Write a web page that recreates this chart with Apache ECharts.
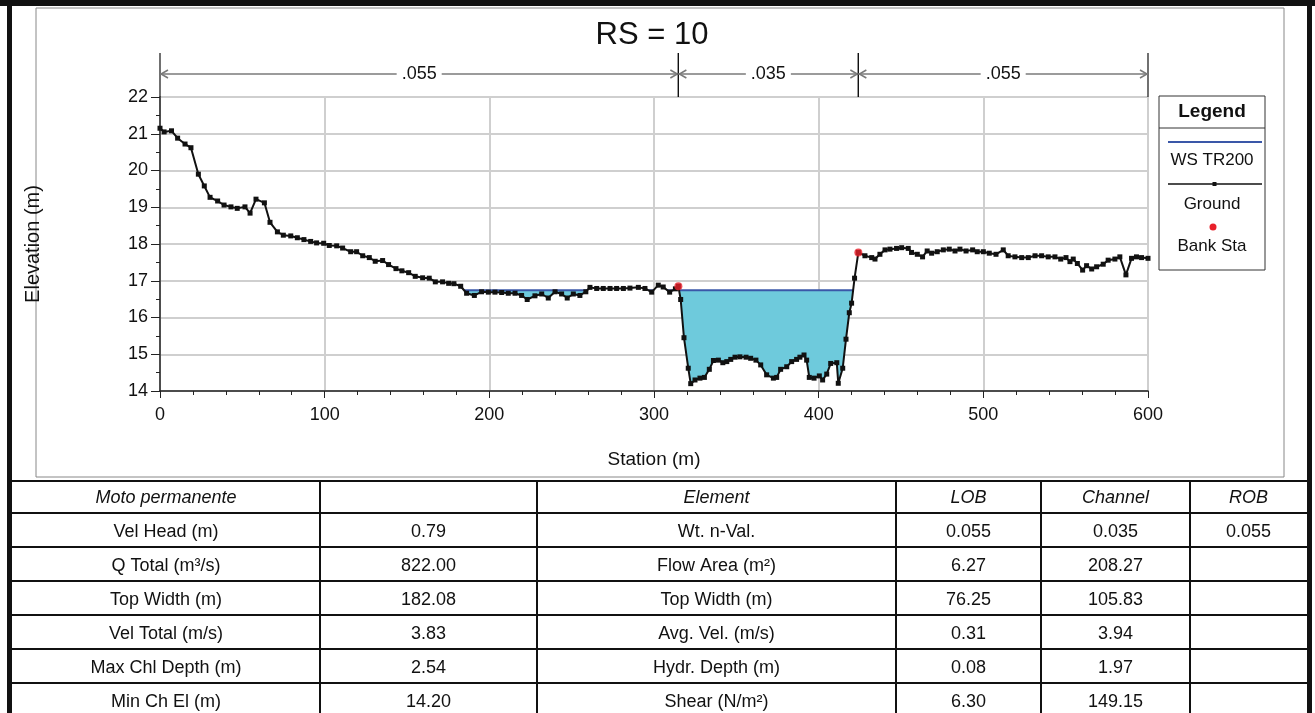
<!DOCTYPE html>
<html>
<head>
<meta charset="utf-8">
<title>RS = 10</title>
<script src="https://cdn.jsdelivr.net/npm/echarts/dist/echarts.min.js"></script>
<style>
html,body{margin:0;padding:0;background:#fff;}
#chart{width:1315px;height:713px;}
</style>
</head>
<body>
<div id="chart"></div>
<script>
// ground profile
var groundStation = [0, 2.5, 7, 10.7, 15.2, 18.8, 23.3, 26.9, 30.4, 35, 38.9, 43.1, 46.9, 51.6, 54.7, 58.3, 63.4, 66.8, 71.3, 74.9,
  79.4, 83.4, 87.4, 91.5, 95.1, 99.4, 102.8, 107.3, 110.9, 115.8, 119.4, 123.1, 127.1, 130.7, 135.2, 138.8, 143.3, 146.9, 151, 155,
  159.5, 163.5, 167.2, 171.6, 175.3, 178.5, 182.6, 186.2, 190.9, 195.3, 199.4, 203.4, 207.5, 211.5, 215.6, 219.6, 223, 227.7, 231.8, 235.8,
  239.9, 243.9, 247.3, 251, 255, 258.6, 261.1, 265.2, 269.2, 273.3, 277.3, 281.4, 285.4, 290.5, 294.5, 298.6, 302.6, 305.6, 309.5, 313,
  314.8, 316.2, 318.2, 320.8, 322.3, 324.9, 327.9, 330.6, 333.6, 336.1, 339.1, 341.8, 344.2, 346.6, 349.2, 352.2, 355.9, 358.7, 361.9, 364.8,
  368.4, 372.5, 374.5, 376.9, 380.6, 383.6, 386.6, 388.6, 391.1, 392.7, 394.3, 397.2, 400.4, 402.4, 404.9, 407.3, 411, 411.9, 414.6, 416.6,
  418.6, 420, 421.8, 424.1, 428.1, 432.2, 434.2, 437.2, 440.3, 443.3, 447.3, 450.4, 454.4, 456.4, 459.9, 463.1, 465.9, 468.6, 472, 475.7,
  479.3, 482.8, 485.8, 489.5, 493.5, 496.3, 500, 503.6, 507.7, 512.1, 515.1, 519.2, 523.3, 527.3, 531.4, 535.4, 539.4, 543.5, 547, 550.2,
  552.6, 554.6, 557.1, 560.3, 562.7, 565.8, 568.8, 572.8, 575.8, 579.9, 582.9, 586.6, 590, 593, 596.1, 600];
var groundElev = [21.15, 21.05, 21.08, 20.88, 20.72, 20.62, 19.90, 19.58, 19.27, 19.17, 19.06, 19.01, 18.97, 19.01, 18.84, 19.22, 19.12, 18.59, 18.33, 18.24,
  18.22, 18.17, 18.12, 18.07, 18.03, 18.02, 17.96, 17.95, 17.89, 17.79, 17.79, 17.68, 17.63, 17.53, 17.55, 17.44, 17.33, 17.27, 17.22, 17.12,
  17.08, 17.07, 16.97, 16.97, 16.93, 16.92, 16.85, 16.66, 16.60, 16.70, 16.69, 16.69, 16.68, 16.66, 16.66, 16.60, 16.49, 16.59, 16.64, 16.53,
  16.70, 16.64, 16.53, 16.64, 16.60, 16.70, 16.82, 16.79, 16.79, 16.79, 16.79, 16.79, 16.80, 16.82, 16.79, 16.69, 16.88, 16.83, 16.69, 16.78,
  16.85, 16.49, 15.45, 14.62, 14.20, 14.30, 14.35, 14.37, 14.59, 14.83, 14.84, 14.77, 14.80, 14.86, 14.92, 14.93, 14.92, 14.89, 14.84, 14.71,
  14.44, 14.35, 14.37, 14.59, 14.66, 14.80, 14.86, 14.92, 14.98, 14.84, 14.37, 14.35, 14.41, 14.30, 14.46, 14.75, 14.77, 14.21, 14.62, 15.41,
  16.13, 16.39, 17.07, 17.77, 17.68, 17.63, 17.59, 17.72, 17.84, 17.86, 17.88, 17.90, 17.88, 17.77, 17.72, 17.65, 17.81, 17.75, 17.79, 17.84,
  17.86, 17.81, 17.86, 17.81, 17.84, 17.79, 17.79, 17.75, 17.72, 17.84, 17.68, 17.65, 17.63, 17.63, 17.68, 17.68, 17.65, 17.65, 17.59, 17.63,
  17.52, 17.59, 17.47, 17.29, 17.41, 17.32, 17.38, 17.45, 17.56, 17.59, 17.65, 17.16, 17.61, 17.65, 17.63, 17.61];
var wsElev = 16.74;
var bankStation = [314.8, 424.1];
var bankElev = [16.85, 17.77];
var nBounds = [0, 314.8, 424.1, 600];
var nValues = ['.055', '.035', '.055'];

// table
var planLabel = 'Moto permanente';
var leftLabels = ['Vel Head (m)', 'Q Total (m³/s)', 'Top Width (m)', 'Vel Total (m/s)', 'Max Chl Depth (m)', 'Min Ch El (m)'];
var leftValues = ['0.79', '822.00', '182.08', '3.83', '2.54', '14.20'];
var headCols = ['Element', 'LOB', 'Channel', 'ROB'];
var elemLabels = ['Wt. n-Val.', 'Flow Area (m²)', 'Top Width (m)', 'Avg. Vel. (m/s)', 'Hydr. Depth (m)', 'Shear (N/m²)'];
var lobValues = ['0.055', '6.27', '76.25', '0.31', '0.08', '6.30'];
var chanValues = ['0.035', '208.27', '105.83', '3.94', '1.97', '149.15'];
var robValues = ['0.055', '', '', '', '', ''];

var FONT = '"Liberation Sans", Arial, sans-serif';

// pieces of ground lying under the water surface
function wetAreas(xs, ys, ws) {
  var out = [], cur = null;
  if (ys[0] < ws) cur = [[xs[0], ws], [xs[0], ys[0]]];
  for (var i = 0; i < xs.length - 1; i++) {
    var x0 = xs[i], y0 = ys[i], x1 = xs[i + 1], y1 = ys[i + 1];
    var w0 = y0 < ws, w1 = y1 < ws;
    if (!w0 && w1) {
      cur = [[x0 + (ws - y0) / (y1 - y0) * (x1 - x0), ws], [x1, y1]];
    } else if (w0 && w1) {
      cur.push([x1, y1]);
    } else if (w0 && !w1) {
      cur.push([x0 + (ws - y0) / (y1 - y0) * (x1 - x0), ws]);
      out.push(cur);
      cur = null;
    }
  }
  if (cur) { cur.push([xs[xs.length - 1], ws]); out.push(cur); }
  return out;
}
var wet = wetAreas(groundStation, groundElev, wsElev);

var groundData = groundStation.map(function (s, i) { return [s, groundElev[i]]; });
var bankData = bankStation.map(function (s, i) { return [s, bankElev[i]]; });

// graphic: frames, titles, legend, table
var g = [];
function txt(x, y, s, opt) {
  opt = opt || {};
  g.push({
    type: 'text', x: x, y: y, rotation: opt.rot || 0, silent: true,
    style: {
      text: s, fill: '#111', align: opt.align || 'center', verticalAlign: 'middle',
      font: (opt.style || 'normal') + ' ' + (opt.weight || 'normal') + ' ' + (opt.size || 18) + 'px ' + FONT
    }
  });
}
function ln(x1, y1, x2, y2, color, w) {
  g.push({ type: 'line', silent: true, shape: { x1: x1, y1: y1, x2: x2, y2: y2 }, style: { stroke: color, lineWidth: w } });
}
function box(x, y, w, h, color, fill) {
  g.push({ type: 'rect', silent: true, shape: { x: x, y: y, width: w, height: h }, style: { fill: fill, stroke: color ? color : null, lineWidth: 1 } });
}

// outer frame
box(0, 0, 1315, 6, null, '#111');
box(7, 0, 5, 713, null, '#111');
box(1307, 0, 5, 713, null, '#111');
box(36, 8, 1248, 469, '#888', 'none');

txt(652, 35, 'RS = 10', { size: 31 });
txt(33, 244, 'Elevation (m)', { rot: Math.PI / 2, size: 20 });
txt(654, 460, 'Station (m)', { size: 19 });

// legend
box(1159, 96, 106, 174, '#333', 'none');
ln(1159, 128, 1265, 128, '#333', 1);
txt(1212, 112, 'Legend', { weight: 'bold', size: 19 });
ln(1168, 142, 1262, 142, '#3a57a8', 2);
txt(1212, 160, 'WS TR200', { size: 17 });
ln(1168, 184, 1262, 184, '#111', 1.5);
box(1212.5, 182, 4, 4, null, '#111');
txt(1212, 204, 'Ground', { size: 17 });
g.push({ type: 'circle', silent: true, shape: { cx: 1213, cy: 227, r: 3.5 }, style: { fill: '#e8202a' } });
txt(1212, 246, 'Bank Sta', { size: 17 });

// table
var colX = [12, 320, 537, 896, 1041, 1190, 1307];
var rowY = [481, 513, 547, 581, 615, 649, 683, 717];
rowY.slice(0, 7).forEach(function (y) { ln(7, y, 1312, y, '#111', 2); });
colX.slice(1, 6).forEach(function (x) { ln(x, 481, x, 713, '#111', 2); });
function mid(i) { return (colX[i] + colX[i + 1]) / 2; }
txt(mid(0), 498, planLabel, { style: 'italic' });
headCols.forEach(function (h, i) { txt(mid(i + 2), 498, h, { style: 'italic' }); });
leftLabels.forEach(function (lab, r) {
  var y = (rowY[r + 1] + rowY[r + 2]) / 2 + 2;
  txt(mid(0), y, lab);
  txt(mid(1), y, leftValues[r]);
  txt(mid(2), y, elemLabels[r]);
  txt(mid(3), y, lobValues[r]);
  txt(mid(4), y, chanValues[r]);
  if (robValues[r]) txt(mid(5), y, robValues[r]);
});

var chart = echarts.init(document.getElementById('chart'));
chart.setOption({
  backgroundColor: '#fff',
  animation: false,
  textStyle: { fontFamily: FONT },
  grid: { left: 160, right: 167, top: 97, bottom: 322 },
  xAxis: {
    type: 'value', min: 0, max: 600, interval: 100,
    axisLine: { onZero: false, lineStyle: { color: '#222', width: 1.5 } },
    axisTick: { length: 7, lineStyle: { color: '#222' } },
    minorTick: { show: true, splitNumber: 5, length: 4, lineStyle: { color: '#222' } },
    axisLabel: { fontSize: 18, color: '#111', margin: 15, fontFamily: FONT },
    splitLine: { show: true, lineStyle: { color: '#cfcfcf', width: 2 } }
  },
  yAxis: {
    type: 'value', min: 14, max: 22, interval: 1,
    axisLine: { show: true, onZero: false, lineStyle: { color: '#222', width: 1.5 } },
    axisTick: { show: true, length: 9, lineStyle: { color: '#222' } },
    minorTick: { show: true, splitNumber: 2, length: 4, lineStyle: { color: '#222' } },
    axisLabel: { fontSize: 18, color: '#111', margin: 12, fontFamily: FONT },
    splitLine: { show: true, lineStyle: { color: '#cfcfcf', width: 2 } }
  },
  graphic: g,
  series: [
    {
      name: 'WS TR200', type: 'custom', z: 1, silent: true,
      data: wet.map(function (p) { return [p[0][0], wsElev]; }),
      renderItem: function (params, api) {
        var poly = wet[params.dataIndex];
        var pts = poly.map(function (p) { return api.coord(p); });
        var a = api.coord([poly[0][0], wsElev]);
        var b = api.coord([poly[poly.length - 1][0], wsElev]);
        return {
          type: 'group', children: [
            { type: 'polygon', shape: { points: pts }, style: { fill: '#6ecadc', stroke: null } },
            { type: 'line', shape: { x1: a[0], y1: a[1], x2: b[0], y2: b[1] }, style: { stroke: '#3a57a8', lineWidth: 2 } }
          ]
        };
      }
    },
    {
      name: 'Ground', type: 'line', z: 3, data: groundData,
      symbol: 'rect', symbolSize: 5, showSymbol: true, showAllSymbol: true,
      lineStyle: { color: '#111', width: 2 }, itemStyle: { color: '#111' }
    },
    {
      name: 'Bank Sta', type: 'scatter', z: 4, data: bankData,
      symbol: 'circle', symbolSize: 8, itemStyle: { color: '#e8202a' }
    },
    {
      name: 'n', type: 'custom', clip: false, silent: true, z: 2,
      encode: { x: [0, 1], y: 2 },
      data: nValues.map(function (v, i) { return [nBounds[i], nBounds[i + 1], 22]; }),
      renderItem: function (params, api) {
        var top = params.coordSys.y;
        var xa = api.coord([api.value(0), 22])[0];
        var xb = api.coord([api.value(1), 22])[0];
        var y = top - 23;
        var grey = '#7a7a7a';
        return {
          type: 'group', children: [
            { type: 'line', shape: { x1: xa, y1: top - 44, x2: xa, y2: top }, style: { stroke: '#111', lineWidth: 1.2 } },
            { type: 'line', shape: { x1: xb, y1: top - 44, x2: xb, y2: top }, style: { stroke: '#111', lineWidth: 1.2 } },
            { type: 'line', shape: { x1: xa, y1: y, x2: xb, y2: y }, style: { stroke: grey, lineWidth: 1.5 } },
            { type: 'polyline', shape: { points: [[xa + 8, y - 4], [xa + 1, y], [xa + 8, y + 4]] }, style: { stroke: grey, lineWidth: 1.5, fill: null } },
            { type: 'polyline', shape: { points: [[xb - 8, y - 4], [xb - 1, y], [xb - 8, y + 4]] }, style: { stroke: grey, lineWidth: 1.5, fill: null } },
            {
              type: 'text', x: (xa + xb) / 2, y: y,
              style: {
                text: nValues[params.dataIndex], align: 'center', verticalAlign: 'middle',
                font: '18px ' + FONT, fill: '#111', backgroundColor: '#fff', padding: [0, 5]
              }
            }
          ]
        };
      }
    }
  ]
});
</script>
</body>
</html>
